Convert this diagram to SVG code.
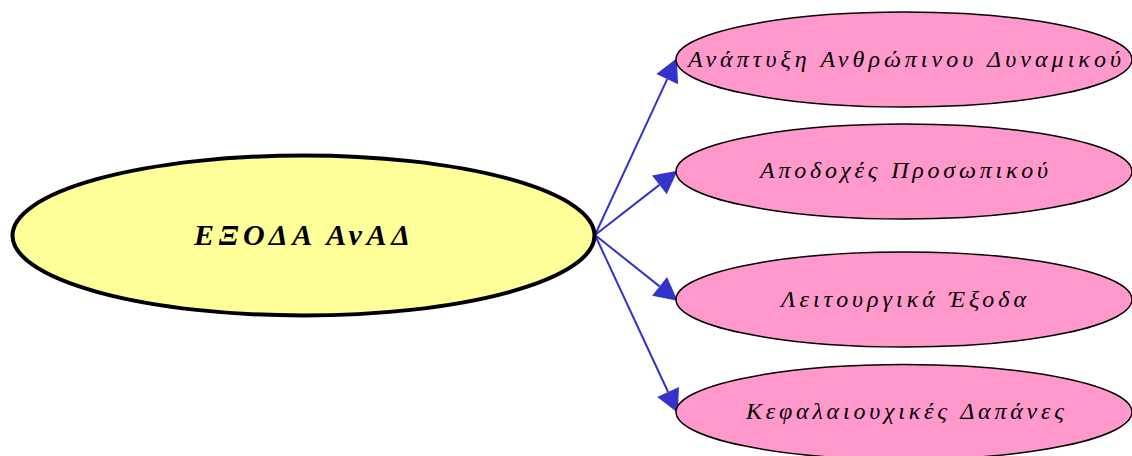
<svg xmlns="http://www.w3.org/2000/svg" width="1132" height="456" viewBox="0 0 1132 456">
<style>
.bg{fill:#ffffff}
.main{fill:#ffff99;stroke:#000000;stroke-width:4}
.leaf{fill:#ff99cc;stroke:#000000;stroke-width:1.5}
.lbl{font-family:"Liberation Serif","DejaVu Serif",serif;font-style:italic;font-size:24px;fill:#000000}
.mlbl{font-family:"Liberation Serif","DejaVu Serif",serif;font-style:italic;font-weight:bold;font-size:30px;fill:#000000}
.edge{stroke:#3333cc;stroke-width:2;fill:none;marker-end:url(#arr)}
</style>
<defs>
<marker id="arr" markerUnits="userSpaceOnUse" markerWidth="24" markerHeight="24" refX="0" refY="11" orient="auto" viewBox="0 0 22 22" overflow="visible">
<path d="M0,0 L21,11 L0,22 Z" fill="#3333cc"/>
</marker>
</defs>
<rect class="bg" x="0" y="0" width="1132" height="456"/>
<g id="connectors">
<line class="edge" x1="595" y1="235" x2="667.2" y2="79.1"/>
<line class="edge" x1="595" y1="235" x2="659.4" y2="184.9"/>
<line class="edge" x1="595" y1="235" x2="659.6" y2="286.4"/>
<line class="edge" x1="595" y1="235" x2="668.1" y2="392"/>
</g>
<g id="node-main">
<ellipse class="main" cx="303.5" cy="235.5" rx="291" ry="80"/>
<text class="mlbl" x="194" y="245" textLength="216" lengthAdjust="spacing">ΕΞΟΔΑ ΑνΑΔ</text>
</g>
<g id="node-1">
<ellipse class="leaf" cx="904" cy="59.5" rx="228" ry="47.5"/>
<text class="lbl" x="688" y="67" textLength="433" lengthAdjust="spacing">Ανάπτυξη Ανθρώπινου Δυναμικού</text>
</g>
<g id="node-2">
<ellipse class="leaf" cx="904" cy="171.5" rx="228" ry="47.5"/>
<text class="lbl" x="760" y="178" textLength="288" lengthAdjust="spacing">Αποδοχές Προσωπικού</text>
</g>
<g id="node-3">
<ellipse class="leaf" cx="904" cy="299.5" rx="228" ry="47.5"/>
<text class="lbl" x="781" y="307" textLength="245" lengthAdjust="spacing">Λειτουργικά Έξοδα</text>
</g>
<g id="node-4">
<ellipse class="leaf" cx="904" cy="412" rx="228" ry="47.5"/>
<text class="lbl" x="746" y="419" textLength="318" lengthAdjust="spacing">Κεφαλαιουχικές Δαπάνες</text>
</g>
</svg>
